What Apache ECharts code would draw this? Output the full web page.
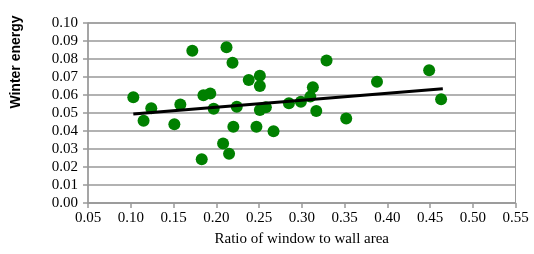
<!DOCTYPE html>
<html>
<head>
<meta charset="utf-8">
<script src="https://cdn.jsdelivr.net/npm/echarts@6/dist/echarts.min.js"></script>
<style>
  html, body { margin: 0; padding: 0; background: #fff; }
  #chart { width: 534px; height: 254px; }
</style>
</head>
<body>
<div id="chart"></div>
<script>
// ratio of window to wall area
const ratioX = [0.103, 0.124, 0.115, 0.151, 0.158, 0.172, 0.185, 0.193, 0.197, 0.183, 0.208,
  0.215, 0.212, 0.219, 0.220, 0.224, 0.238, 0.251, 0.251, 0.247, 0.251, 0.258, 0.267,
  0.285, 0.299, 0.310, 0.313, 0.317, 0.329, 0.352, 0.388, 0.449, 0.463];
// winter energy
const energyY = [0.0587, 0.0526, 0.0457, 0.0437, 0.0547, 0.0846, 0.0598, 0.0608, 0.0523, 0.0243, 0.0330,
  0.0274, 0.0865, 0.0779, 0.0424, 0.0535, 0.0683, 0.0707, 0.0650, 0.0424, 0.0517, 0.0532, 0.0398,
  0.0554, 0.0563, 0.0591, 0.0643, 0.0511, 0.0792, 0.0469, 0.0674, 0.0738, 0.0576];
// trend line ends
const trendX = [0.103, 0.465];
const trendY = [0.0494, 0.0635];

const points = ratioX.map((x, i) => [x, energyY[i]]);
const trend = trendX.map((x, i) => [x, trendY[i]]);

const gray = '#999999';
const serif = '"Liberation Serif", "Times New Roman", serif';

let myChart = echarts.init(document.getElementById('chart'));
myChart.setOption({
  animation: false,
  grid: {
    left: 88, right: 18.5, top: 23, bottom: 51,
    show: true, borderColor: gray, borderWidth: 1
  },
  xAxis: {
    type: 'value',
    min: 0.05, max: 0.55, interval: 0.05,
    name: 'Ratio of window to wall area',
    nameLocation: 'middle',
    nameGap: 29,
    nameTextStyle: { fontFamily: serif, fontSize: 15, color: '#000' },
    axisLine: { show: true, lineStyle: { color: gray, width: 1.5 } },
    axisTick: { show: true, length: 5, lineStyle: { color: gray, width: 1.5 } },
    axisLabel: {
      fontFamily: serif, fontSize: 15, color: '#000', margin: 8,
      formatter: v => v.toFixed(2)
    },
    splitLine: { show: false }
  },
  yAxis: {
    type: 'value',
    min: 0, max: 0.1, interval: 0.01,
    axisLine: { show: true, lineStyle: { color: gray, width: 1.5 } },
    axisTick: { show: true, length: 5, lineStyle: { color: gray, width: 1.5 } },
    axisLabel: {
      fontFamily: serif, fontSize: 15, color: '#000', margin: 10,
      formatter: v => v.toFixed(2)
    },
    splitLine: { show: true, lineStyle: { color: gray, width: 1.5 } }
  },
  graphic: [{
    type: 'text',
    x: 16, y: 62,
    rotation: Math.PI / 2,
    style: {
      text: 'Winter energy',
      font: 'bold 14px "Liberation Sans Narrow", "Liberation Sans", sans-serif',
      fill: '#000',
      align: 'center',
      verticalAlign: 'middle'
    }
  }],
  series: [{
    type: 'scatter',
    data: points,
    symbolSize: 12,
    itemStyle: { color: '#008000', opacity: 1 }
  }, {
    type: 'line',
    data: trend,
    symbol: 'none',
    lineStyle: { color: '#000', width: 3 },
    z: 3
  }]
});
</script>
</body>
</html>
